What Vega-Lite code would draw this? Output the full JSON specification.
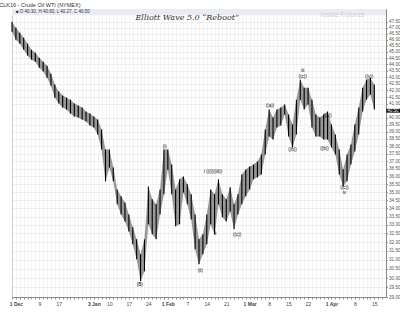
{
  "$schema": "https://vega.github.io/schema/vega-lite/v6.json",
  "width": 374,
  "height": 288,
  "autosize": {"type": "none"},
  "padding": {"left": 12, "top": 9, "right": 14, "bottom": 16},
  "background": "white",
  "config": {"view": {"stroke": "#999"}, "font": "Liberation Sans"},
  "title": {"text": "CLK16 - Crude Oil WTI (NYMEX)", "anchor": "start", "fontSize": 5.5, "fontWeight": "normal", "color": "#333", "offset": 1, "dx": -10},
  "datasets": {
    "bars": [
      {"d":0,"hi":47.50,"lo":46.66},{"d":1,"hi":46.99,"lo":46.00},{"d":2,"hi":46.57,"lo":45.67},{"d":3,"hi":46.16,"lo":45.18},
      {"d":4,"hi":45.67,"lo":44.70},{"d":5,"hi":45.18,"lo":44.38},{"d":6,"hi":44.94,"lo":44.22},{"d":7,"hi":44.54,"lo":43.75},
      {"d":8,"hi":44.22,"lo":43.44},{"d":9,"hi":43.90,"lo":42.97},{"d":10,"hi":43.28,"lo":42.36},{"d":11,"hi":42.44,"lo":41.46},
      {"d":12,"hi":41.91,"lo":41.02},{"d":13,"hi":41.61,"lo":40.73},{"d":14,"hi":41.46,"lo":40.58},{"d":15,"hi":41.31,"lo":40.29},
      {"d":16,"hi":41.02,"lo":40.08},{"d":17,"hi":40.87,"lo":40.01},{"d":18,"hi":40.73,"lo":39.86},{"d":19,"hi":40.44,"lo":39.72},
      {"d":20,"hi":40.29,"lo":39.44},{"d":21,"hi":40.08,"lo":39.30},{"d":22,"hi":39.86,"lo":38.81},{"d":23,"hi":39.16,"lo":37.78},
      {"d":24,"hi":37.78,"lo":35.68},{"d":25,"hi":37.78,"lo":36.58},{"d":26,"hi":36.58,"lo":35.68},{"d":27,"hi":35.17,"lo":34.24},
      {"d":28,"hi":34.74,"lo":33.63},{"d":29,"hi":34.36,"lo":33.21},{"d":30,"hi":33.63,"lo":32.62},{"d":31,"hi":32.86,"lo":31.88},
      {"d":32,"hi":32.16,"lo":31.03},{"d":33,"hi":31.31,"lo":29.83},{"d":34,"hi":32.16,"lo":30.37},{"d":35,"hi":35.36,"lo":33.04},
      {"d":36,"hi":34.55,"lo":32.45},{"d":37,"hi":34.24,"lo":32.16},{"d":38,"hi":35.17,"lo":33.63},{"d":39,"hi":37.78,"lo":34.86},
      {"d":40,"hi":37.78,"lo":36.45},{"d":41,"hi":36.78,"lo":34.86},{"d":42,"hi":35.17,"lo":32.92},{"d":43,"hi":35.81,"lo":33.04},
      {"d":44,"hi":36.00,"lo":34.98},{"d":45,"hi":35.49,"lo":34.24},{"d":46,"hi":34.86,"lo":33.33},{"d":47,"hi":33.63,"lo":31.59},
      {"d":48,"hi":32.16,"lo":30.76},{"d":49,"hi":32.45,"lo":31.31},{"d":50,"hi":33.63,"lo":31.88},{"d":51,"hi":35.17,"lo":33.04},
      {"d":52,"hi":34.86,"lo":32.45},{"d":53,"hi":35.81,"lo":34.24},{"d":54,"hi":34.86,"lo":33.45},{"d":55,"hi":34.55,"lo":33.21},
      {"d":56,"hi":35.30,"lo":33.81},{"d":57,"hi":34.24,"lo":32.74},{"d":58,"hi":34.86,"lo":33.63},{"d":59,"hi":36.13,"lo":34.24},
      {"d":60,"hi":36.45,"lo":34.74},{"d":61,"hi":36.65,"lo":35.17},{"d":62,"hi":36.78,"lo":35.81},{"d":63,"hi":36.98,"lo":35.94},
      {"d":64,"hi":37.44,"lo":36.13},{"d":65,"hi":39.16,"lo":37.44},{"d":66,"hi":40.58,"lo":38.67},{"d":67,"hi":40.01,"lo":38.46},
      {"d":68,"hi":40.58,"lo":39.30},{"d":69,"hi":40.73,"lo":39.44},{"d":70,"hi":40.95,"lo":40.22},{"d":71,"hi":40.22,"lo":38.67},
      {"d":72,"hi":39.51,"lo":37.92},{"d":73,"hi":41.31,"lo":38.81},{"d":74,"hi":42.82,"lo":41.31},{"d":75,"hi":42.21,"lo":40.58},
      {"d":76,"hi":42.21,"lo":40.95},{"d":77,"hi":41.31,"lo":39.30},{"d":78,"hi":40.22,"lo":38.67},{"d":79,"hi":40.01,"lo":38.67},
      {"d":80,"hi":40.22,"lo":38.46},{"d":81,"hi":40.44,"lo":38.46},{"d":82,"hi":39.51,"lo":37.92},{"d":83,"hi":38.81,"lo":37.44},
      {"d":84,"hi":37.78,"lo":36.13},{"d":85,"hi":36.45,"lo":35.36},{"d":86,"hi":37.44,"lo":35.68},{"d":87,"hi":38.12,"lo":36.78},
      {"d":88,"hi":39.51,"lo":37.64},{"d":89,"hi":40.73,"lo":38.81},{"d":90,"hi":42.21,"lo":40.44},{"d":91,"hi":42.82,"lo":41.31},
      {"d":92,"hi":42.97,"lo":41.69},{"d":93,"hi":42.44,"lo":40.58}
    ],
    "notes": [
      {"d":32.8,"p":29.62,"t":"(B)"},
      {"d":39.2,"p":37.95,"t":"(i)"},
      {"d":48.3,"p":30.4,"t":"(ii)"},
      {"d":51.6,"p":36.3,"t":"i ((i))((iii))"},
      {"d":52.2,"p":32.45,"t":"ii"},
      {"d":57.8,"p":32.4,"t":"((c))"},
      {"d":66.2,"p":40.85,"t":"((a))"},
      {"d":72,"p":37.75,"t":"((b))"},
      {"d":74.6,"p":43.5,"t":"iii"},
      {"d":74.6,"p":43.0,"t":"((c))"},
      {"d":81,"p":40.15,"t":"((a))"},
      {"d":80.2,"p":37.8,"t":"((b))"},
      {"d":85.3,"p":35.25,"t":"((c))"},
      {"d":85.3,"p":34.92,"t":"iv"},
      {"d":91.7,"p":43.0,"t":"((v))"}
    ]
  },
  "encoding": {
    "x": {
      "field": "d", "type": "quantitative",
      "scale": {"domain": [0, 96], "nice": false, "zero": false},
      "axis": {
        "title": null,
        "values": [0,1,2,3,4,5,6,7,8,9,10,11,12,13,14,15,16,17,18,19,20,21,22,23,24,25,26,27,28,29,30,31,32,33,34,35,36,37,38,39,40,41,42,43,44,45,46,47,48,49,50,51,52,53,54,55,56,57,58,59,60,61,62,63,64,65,66,67,68,69,70,71,72,73,74,75,76,77,78,79,80,81,82,83,84,85,86,87,88,89,90,91,92,93,94,95],
        "labelExpr": "{'1':'1 Dec','7':'9','12':'17','21':'3 Jan','25':'10','30':'17','35':'24','40':'1 Feb','45':'7','50':'14','55':'21','61':'1 Mar','66':'8','71':'15','76':'22','82':'1 Apr','88':'8','93':'15'}[''+datum.value] || ''",
        "labelFontWeight": {"expr": "indexof([1,21,40,61,82], datum.value) >= 0 ? 'bold' : 'normal'"},
        "labelFontSize": 5, "labelColor": "#444", "labelPadding": 2,
        "tickSize": 2, "tickColor": "#999",
        "grid": true, "gridColor": "#ececec", "gridWidth": 0.6,
        "domainColor": "#888",
        "labelFlush": false
      }
    }
  },
  "layer": [
    {
      "data": {"values": [{"d": 0}]},
      "mark": {"type": "rect", "color": "#e9ebf7"},
      "encoding": {
        "x": {"datum": 0, "type": "quantitative"},
        "x2": {"datum": 96},
        "y": {"datum": 48.05, "type": "quantitative"},
        "y2": {"datum": 48.6}
      }
    },
    {
      "data": {"name": "bars"},
      "mark": {"type": "area", "color": "#333", "opacity": 0.5, "interpolate": "linear"},
      "encoding": {
        "y": {"field": "lo", "type": "quantitative",
          "scale": {"type": "log", "domain": [29, 48.6], "nice": false, "zero": false},
          "axis": {
            "orient": "right", "title": null,
            "values": [29,29.5,30,30.5,31,31.5,32,32.5,33,33.5,34,34.5,35,35.5,36,36.5,37,37.5,38,38.5,39,39.5,40,41,41.5,42,42.5,43,43.5,44,44.5,45,45.5,46,46.5,47,47.5],
            "format": ".2f", "labelFontSize": 4.6, "labelColor": "#555", "labelPadding": 1,
            "tickSize": 1.5, "tickColor": "#999",
            "grid": true, "gridColor": "#e4e4e4", "gridWidth": 0.6,
            "domainColor": "#888"
          }
        },
        "y2": {"field": "hi"}
      }
    },
    {
      "data": {"name": "bars"},
      "mark": {"type": "rule", "color": "#000", "strokeWidth": 1.1},
      "encoding": {
        "y": {"field": "lo", "type": "quantitative"},
        "y2": {"field": "hi"}
      }
    },
    {
      "data": {"name": "notes"},
      "mark": {"type": "text", "fontSize": 4.5, "color": "#000"},
      "encoding": {
        "y": {"field": "p", "type": "quantitative"},
        "text": {"field": "t"}
      }
    },
    {
      "data": {"values": [{"d": 45, "p": 47.85, "t": "Elliott Wave 5.0 \u201cReboot\u201d"}]},
      "mark": {"type": "text", "font": "DejaVu Serif", "fontStyle": "italic", "fontSize": 8, "color": "#333"},
      "encoding": {
        "y": {"field": "p", "type": "quantitative"},
        "text": {"field": "t"}
      }
    },
    {
      "data": {"values": [{"d": 90.5, "p": 48.1, "t": "Inside Futures"}]},
      "mark": {"type": "text", "fontSize": 7, "color": "#cfcfcf", "align": "right"},
      "encoding": {
        "y": {"field": "p", "type": "quantitative"},
        "text": {"field": "t"}
      }
    },
    {
      "data": {"values": [{"d": 1, "p": 48.32, "t": "\u25a0 O 40.30, H 40.60, L 40.27, C 40.50"}]},
      "mark": {"type": "text", "fontSize": 4.5, "color": "#333", "align": "left"},
      "encoding": {
        "y": {"field": "p", "type": "quantitative"},
        "text": {"field": "t"}
      }
    },
    {
      "data": {"values": [{"d": 0}]},
      "mark": {"type": "rect", "color": "#000"},
      "encoding": {
        "x": {"datum": 96.1, "type": "quantitative"},
        "x2": {"datum": 99.6},
        "y": {"datum": 40.36, "type": "quantitative"},
        "y2": {"datum": 40.64}
      }
    },
    {
      "data": {"values": [{"d": 96.3, "p": 40.5, "t": "40.50"}]},
      "mark": {"type": "text", "fontSize": 4.6, "color": "#fff", "align": "left"},
      "encoding": {
        "y": {"field": "p", "type": "quantitative"},
        "text": {"field": "t"}
      }
    }
  ]
}
